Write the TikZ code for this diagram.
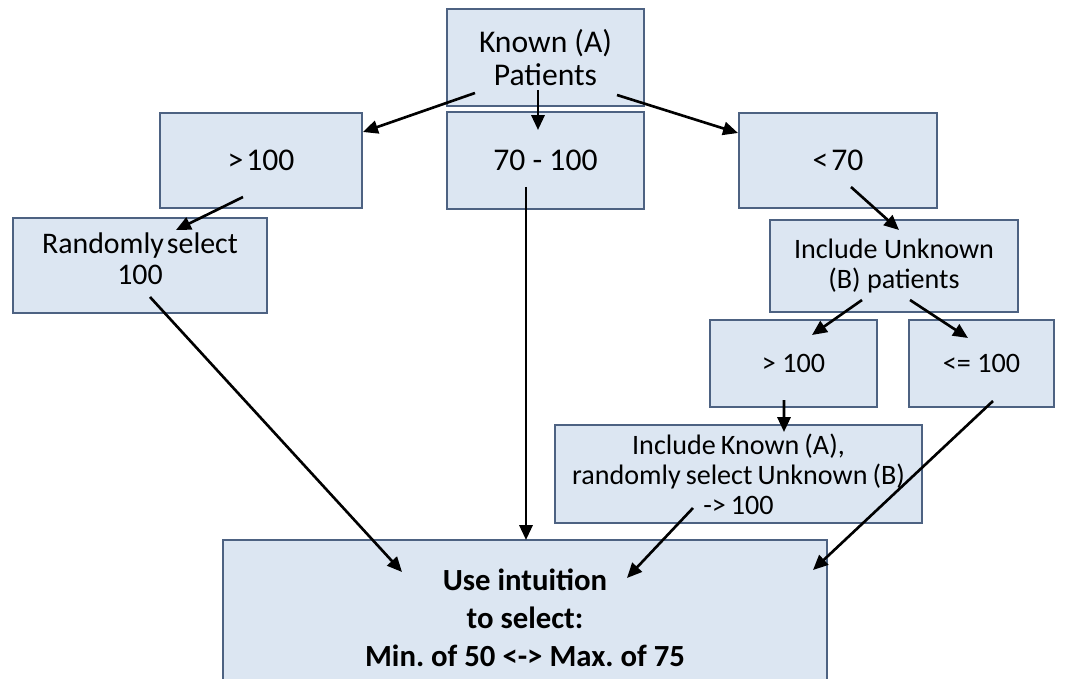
\documentclass[tikz,border=0pt]{standalone}
\usepackage{fontspec}
\setmainfont{Carlito}
\usepackage{xcolor}
\usepackage{tikz}
\usetikzlibrary{arrows.meta,calc}

\definecolor{boxfill}{RGB}{220,230,242}
\definecolor{boxline}{RGB}{77,98,130}

\frenchspacing
\newcommand{\tightspaces}[1]{\spaceskip=#1\relax}
\tikzset{
	pbox/.style={draw=boxline, fill=boxfill, line width=1.1pt, align=center, inner sep=0pt,
		font=\fontsize{16}{17.5}\selectfont},
	topbox/.style={pbox, font=\fontsize{18}{18.5}\selectfont},
	bigbox/.style={pbox, font=\fontsize{17.5}{21.5}\selectfont\bfseries},
	flow/.style={-{Triangle[length=8.5pt,width=7.5pt]}, line width=1.5pt, black}
}

\begin{document}
\begin{tikzpicture}[x=0.02cm, y=-0.02cm]
		\useasboundingbox (0,0) rectangle (1066,679);
		
		% draw the boxes
		\node[topbox, minimum width=3.94cm, minimum height=1.94cm] (known) at (545.5,57.5) {Known (A)\\Patients};
		\node[topbox, minimum width=4.04cm, minimum height=1.9cm] (gt) at (261,160.5) {>\hspace{0.1em}100};
		\node[topbox, minimum width=3.94cm, minimum height=1.94cm] (mid) at (545.5,160.5) {70 - 100};
		\node[topbox, minimum width=3.96cm, minimum height=1.9cm] (lt) at (838,160.5) {<\hspace{0.1em}70};
		\node[pbox, minimum width=5.08cm, minimum height=1.9cm, font={\fontsize{17}{17.5}\selectfont\tightspaces{0.1em}}] (rand) at (140,265.5) {Randomly select\\100\rule[-8pt]{0pt}{8pt}};
		\node[pbox, minimum width=4.96cm, minimum height=1.84cm] (unk) at (894,266) {Include Unknown\\(B) patients};
		\node[pbox, minimum width=3.34cm, minimum height=1.74cm] (gtb) at (793.5,363.5) {> 100};
		\node[pbox, minimum width=2.9cm, minimum height=1.74cm] (le) at (981.5,363.5) {<= 100};
		\node[pbox, minimum width=7.34cm, minimum height=1.96cm, font={\fontsize{16}{17}\selectfont\tightspaces{0.18em}}] (inc) at (738.5,474) {Include Known (A),\\randomly select Unknown (B)\\-> 100};
		\node[bigbox, minimum width=12.08cm, minimum height=3.12cm] (use) at (525,618) {Use intuition\\to select:\\Min. of 50 <-> Max. of 75};
		
		% draw the connecting arrows
		\draw[flow] ($(known)+(-70.5,35.5)$) -- ($(gt)+(102,-28.5)$);
		\draw[flow] ($(known)+(-7.5,32.5)$) -- ($(mid)+(-7.5,-30.5)$);
		\draw[flow] ($(known)+(71.5,37.5)$) -- ($(lt)+(-100,-27.5)$);
		\draw[flow] ($(gt)+(-18,36.5)$) -- ($(rand)+(36,-35.5)$);
		\draw[flow] ($(lt)+(13,26.5)$) -- ($(unk)+(5,-36)$);
		\draw[flow] ($(unk)+(-32,34)$) -- ($(gtb)+(18.5,-28.5)$);
		\draw[flow] ($(unk)+(16,34)$) -- ($(le)+(-13.5,-25.5)$);
		\draw[flow] ($(gtb)+(-9.5,36.5)$) -- ($(inc)+(45.5,-42)$);
		\draw[flow] ($(rand)+(10,31.5)$) -- ($(use)+(-123,-46)$);
		\draw[flow] ($(mid)+(-19.5,26.5)$) -- ($(use)+(1,-78)$);
		\draw[flow] ($(inc)+(-45.5,34)$) -- ($(use)+(102,-40)$);
		\draw[flow] ($(le)+(11.5,37.5)$) -- ($(use)+(288,-48)$);
\end{tikzpicture}
\end{document}
